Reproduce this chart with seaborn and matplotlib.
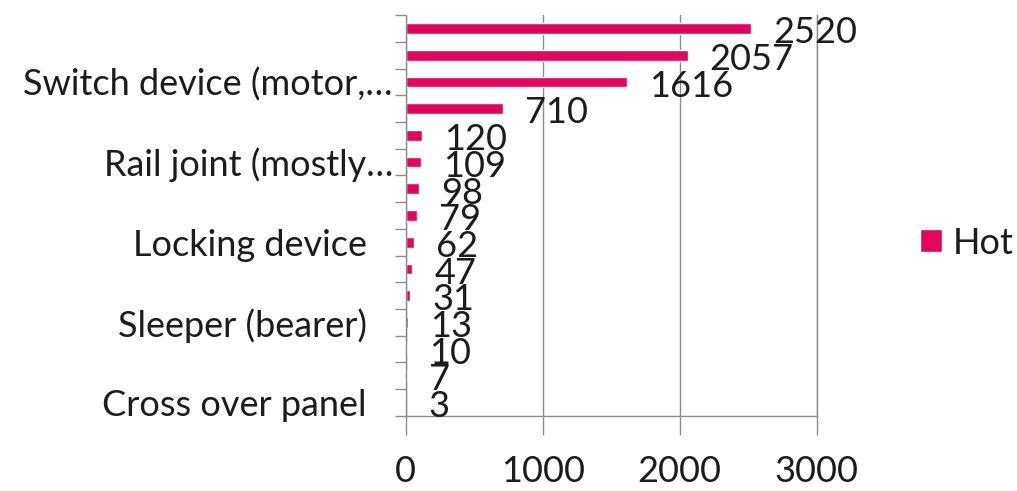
import matplotlib
matplotlib.use("Agg")
import matplotlib.pyplot as plt
from matplotlib.transforms import ScaledTranslation
import pandas as pd
import seaborn as sns

# values, top to bottom; only every third label is shown
categories = ["", "", "Switch device (motor,\u2026",
              "", "", "Rail joint (mostly\u2026",
              "", "", "Locking device",
              "", "", "Sleeper (bearer)",
              "", "", "Cross over panel"]
hot = [2520, 2057, 1616, 710, 120, 109, 98, 79, 62, 47, 31, 13, 10, 7, 3]
x_ticks = [0, 1000, 2000, 3000]

BAR_COLOUR = "#E2065C"
TEXT_COLOUR = "#1c1c1c"
GRID_COLOUR = "#8c8c8c"
FS = 26


def main():
    sns.set_theme(style="white")
    plt.rcParams["font.family"] = ["Lato", "DejaVu Sans"]

    df = pd.DataFrame({"pos": [f"c{i}" for i in range(len(hot))],
                       "Hot": hot})

    fig = plt.figure(figsize=(10.17, 4.91), dpi=100)
    ax = fig.add_axes([0.399, 0.153, 0.404, 0.816])

    sns.barplot(data=df, y="pos", x="Hot", orient="h", color=BAR_COLOUR,
                width=0.4, saturation=1, ax=ax, label="Hot")
    handles, labels = ax.get_legend_handles_labels()
    if ax.get_legend() is not None:
        ax.get_legend().remove()

    for i, v in enumerate(hot):
        ax.annotate(str(v), (v, i), xytext=(16, -3), textcoords="offset points",
                    va="center", ha="left", fontsize=FS, color=TEXT_COLOUR)

    ax.set_xlim(0, 3000)
    ax.set_ylim(len(hot) - 0.5, -0.5)
    ax.set_xticks(x_ticks)
    ax.set_xticklabels([str(t) for t in x_ticks], fontsize=FS, color=TEXT_COLOUR)
    ax.set_yticks(range(len(hot)))
    ax.set_yticklabels(categories, fontsize=FS, color=TEXT_COLOUR)
    ax.set_yticks([i - 0.5 for i in range(len(hot) + 1)], minor=True)
    ax.tick_params(axis="y", which="major", length=0, pad=28)
    ax.tick_params(axis="y", which="minor", length=8, color=GRID_COLOUR, width=1, left=True)
    ax.tick_params(axis="x", which="major", length=14, color=GRID_COLOUR, width=1,
                   bottom=True, pad=14)
    ax.set_xlabel("")
    ax.set_ylabel("")

    # truncated labels reach closer to the axis, as in the original
    shift = ScaledTranslation(0.26, 0, fig.dpi_scale_trans)
    for lab in ax.get_yticklabels():
        if "\u2026" in lab.get_text():
            lab.set_transform(lab.get_transform() + shift)

    ax.grid(axis="x", color=GRID_COLOUR, linewidth=1)
    ax.set_axisbelow(True)
    ax.spines["top"].set_visible(False)
    for side in ["left", "bottom", "right"]:
        ax.spines[side].set_color(GRID_COLOUR)
        ax.spines[side].set_linewidth(1)

    fig.legend(handles[:1], ["Hot"], loc="center left", bbox_to_anchor=(0.905, 0.505),
               frameon=False, fontsize=FS, handlelength=0.6, handleheight=0.6,
               handletextpad=0.3, borderpad=0, borderaxespad=0, labelcolor=TEXT_COLOUR)

    fig.savefig("out.png", dpi=100)


if __name__ == "__main__":
    main()
